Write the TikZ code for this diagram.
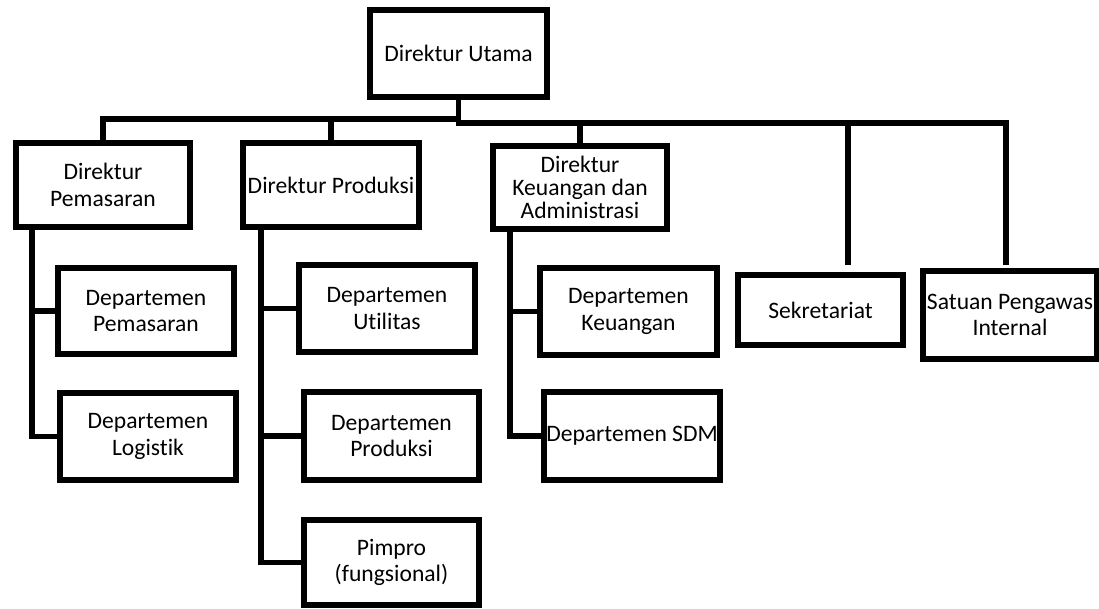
\documentclass[tikz,border=0pt]{standalone}
\usepackage{fontspec}
\setmainfont{Carlito}[Ligatures={NoCommon}]
\begin{document}
\begin{tikzpicture}[x=1pt,y=-1pt,
  box/.style={draw=black, line width=5.5pt, inner sep=0pt, align=center,
    font=\fontsize{23.6}{26.7}\selectfont},
  conn/.style={draw=black, line width=5.5pt, line join=miter}]
\useasboundingbox (0,0) rectangle (1099,608);
% nodes
\node[box, minimum width=177pt, minimum height=87pt] (du) at (458.5,53.5) {Direktur Utama};
\node[box, minimum width=174pt, minimum height=84pt] (dp) at (103,185) {Direktur\\Pemasaran};
\node[box, minimum width=176pt, minimum height=84pt] (dprod) at (331,185) {Direktur Produksi};
\node[box, minimum width=174pt, minimum height=83pt, font=\fontsize{23.6}{23}\selectfont] (dk) at (580,187.5) {Direktur\\Keuangan dan\\Administrasi};
\node[box, minimum width=176pt, minimum height=86pt] (deppem) at (146,311) {Departemen\\Pemasaran};
\node[box, minimum width=176pt, minimum height=87pt] (deplog) at (148,436.5) {Departemen\\Logistik};
\node[box, minimum width=176pt, minimum height=87pt] (deputil) at (387,308.5) {Departemen\\Utilitas};
\node[box, minimum width=175pt, minimum height=88pt] (depprod) at (391.5,436) {Departemen\\Produksi};
\node[box, minimum width=175pt, minimum height=85pt] (pimpro) at (391.5,562.5) {Pimpro\\(fungsional)};
\node[box, minimum width=177pt, minimum height=87pt] (depkeu) at (628.5,311.5) {Departemen\\Keuangan};
\node[box, minimum width=176pt, minimum height=88pt] (depsdm) at (632,436) {Departemen SDM};
\node[box, minimum width=165pt, minimum height=70pt] (sek) at (820.5,310) {Sekretariat};
\node[box, minimum width=174pt, minimum height=88pt] (spi) at (1010,315) {Satuan Pengawas\\Internal};
% bus coordinates
\coordinate (busL) at (0,119);
\coordinate (busR) at (0,123);
\coordinate (sekTop) at (848,265);
\coordinate (spiTop) at (1006,265);
\coordinate (gpm) at (32,0);
\coordinate (gpr) at (261,0);
\coordinate (gku) at (510,0);
% top level connectors
\draw[conn] (dp.north) |- (du.south |- busL);
\draw[conn] (dprod.north) -- (dprod.north |- busL);
\draw[conn] (du.south) -- (du.south |- busR) -- (spiTop |- busR) -- (spiTop);
\draw[conn] (dk.north) -- (dk.north |- busR);
\draw[conn] (sekTop |- busR) -- (sekTop);
% Pemasaran group
\draw[conn] (gpm |- dp.south) |- (deplog.west);
\draw[conn] (gpm |- deppem.west) -- (deppem.west);
% Produksi group
\draw[conn] (gpr |- dprod.south) |- (pimpro.west);
\draw[conn] (gpr |- deputil.west) -- (deputil.west);
\draw[conn] (gpr |- depprod.west) -- (depprod.west);
% Keuangan group
\draw[conn] (gku |- dk.south) |- (depsdm.west);
\draw[conn] (gku |- depkeu.west) -- (depkeu.west);
\end{tikzpicture}
\end{document}
